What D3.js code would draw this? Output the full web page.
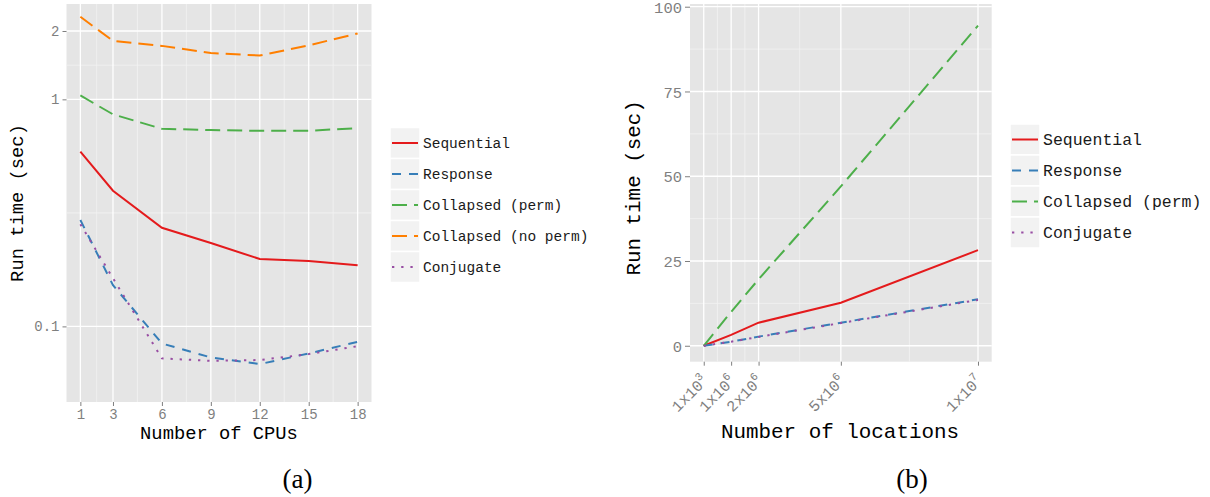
<!DOCTYPE html>
<html><head><meta charset="utf-8">
<script src="https://cdn.jsdelivr.net/npm/d3@7"></script>
<style>
body{margin:0;background:#fff;}
text{font-family:"Liberation Mono",monospace;}
</style></head>
<body><svg id="c" width="1210" height="497"></svg>
<script>
// ---------- Data ----------
const cpus = [1, 3, 6, 9, 12, 15, 18];
const cpuTicks = [1, 3, 6, 9, 12, 15, 18];
const seriesNamesA = ["Sequential", "Response", "Collapsed (perm)", "Collapsed (no perm)", "Conjugate"];
const sequentialA = [0.588, 0.396, 0.272, 0.233, 0.198, 0.194, 0.186];
const responseA   = [0.294, 0.152, 0.0841, 0.073, 0.0682, 0.076, 0.0855];
const collPermA   = [1.04, 0.859, 0.742, 0.732, 0.727, 0.727, 0.747];
const collNoPermA = [2.31, 1.81, 1.72, 1.60, 1.56, 1.73, 1.95];
const conjugateA  = [0.282, 0.163, 0.0723, 0.0705, 0.0711, 0.0755, 0.0818];
const yTicksA = [0.1, 1, 2];
const yTickLabelsA = ["0.1", "1", "2"];

const locations = [1e3, 1e6, 2e6, 5e6, 1e7];
const locTickMant = ["1", "1", "2", "5", "1"];
const locTickExp = ["3", "6", "6", "6", "7"];
const seriesNamesB = ["Sequential", "Response", "Collapsed (perm)", "Conjugate"];
const sequentialB = [0, 3.2, 6.8, 12.7, 28.2];
const responseB   = [0, 1.2, 2.7, 6.8, 13.7];
const collPermB   = [0, 10.0, 19.6, 47.0, 94.4];
const conjugateB  = [0, 1.2, 2.6, 6.7, 13.5];
const yTicksB = [0, 25, 50, 75, 100];

// ---------- Styles ----------
const styles = {
  "Sequential":          {color:"#E41A1C", dash:null},
  "Response":            {color:"#377EB8", dash:"9,8"},
  "Collapsed (perm)":    {color:"#4DAF4A", dash:"15,7"},
  "Collapsed (no perm)": {color:"#FF7F00", dash:"15,7"},
  "Conjugate":           {color:"#984EA3", dash:"2.3,6.9"}
};
const svg = d3.select("#c");
const PANEL_BG = "#E5E5E5", MINOR = "#F2F2F2";

function legend(x, yTop, names, keyH, fs) {
  const g = svg.append("g");
  names.forEach((n, i) => {
    const y = yTop + i * keyH;
    g.append("rect").attr("x", x).attr("y", y).attr("width", 30).attr("height", keyH)
      .attr("fill", "#F2F2F2").attr("stroke", "#fff").attr("stroke-width", 1.5);
    g.append("line").attr("x1", x + 2).attr("x2", x + 28).attr("y1", y + keyH/2).attr("y2", y + keyH/2)
      .attr("stroke", styles[n].color).attr("stroke-width", 2)
      .attr("stroke-dasharray", styles[n].dash);
    g.append("text").attr("x", x + 33).attr("y", y + keyH/2).attr("dy", "0.35em")
      .attr("font-size", fs).attr("fill", "#1a1a1a").text(n);
  });
}

// ---------- Panel A ----------
(function(){
  const L = 66.5, R = 371.5, T = 4, B = 402;
  const x = d3.scaleLinear().domain([0.15, 18.85]).range([L, R]);
  const y = d3.scaleLog().domain([Math.pow(10, -1.333), Math.pow(10, 0.42)]).range([B, T]);
  const g = svg.append("g");
  g.append("rect").attr("x", L).attr("y", T).attr("width", R - L).attr("height", B - T).attr("fill", PANEL_BG);
  const xMinor = [2, 4.5, 7.5, 10.5, 13.5, 16.5];
  const yMinor = [Math.sqrt(0.1), Math.sqrt(2)];
  g.selectAll(".xm").data(xMinor).join("line").attr("x1", d => x(d)).attr("x2", d => x(d))
    .attr("y1", T).attr("y2", B).attr("stroke", MINOR).attr("stroke-width", 0.8);
  g.selectAll(".ym").data(yMinor).join("line").attr("y1", d => y(d)).attr("y2", d => y(d))
    .attr("x1", L).attr("x2", R).attr("stroke", MINOR).attr("stroke-width", 0.8);
  g.selectAll(".xM").data(cpuTicks).join("line").attr("x1", d => x(d)).attr("x2", d => x(d))
    .attr("y1", T).attr("y2", B).attr("stroke", "#fff").attr("stroke-width", 1.3);
  g.selectAll(".yM").data(yTicksA).join("line").attr("y1", d => y(d)).attr("y2", d => y(d))
    .attr("x1", L).attr("x2", R).attr("stroke", "#fff").attr("stroke-width", 1.3);

  const xAxis = d3.axisBottom(x).tickValues(cpuTicks).tickSize(4).tickPadding(3);
  const ax = g.append("g").attr("transform", `translate(0,${B})`).call(xAxis);
  const yAxis = d3.axisLeft(y).tickValues(yTicksA).tickFormat((d, i) => yTickLabelsA[i]).tickSize(4).tickPadding(3);
  const ay = g.append("g").attr("transform", `translate(${L},0)`).call(yAxis);
  [ax, ay].forEach(a => {
    a.select(".domain").remove();
    a.selectAll(".tick line").attr("stroke", "#7f7f7f");
    a.selectAll(".tick text").attr("font-family", "Liberation Mono").attr("font-size", 14).attr("fill", "#7f7f7f");
  });

  const data = {
    "Sequential": sequentialA, "Response": responseA, "Collapsed (perm)": collPermA,
    "Collapsed (no perm)": collNoPermA, "Conjugate": conjugateA
  };
  const line = d3.line().x((d, i) => x(cpus[i])).y(d => y(d));
  seriesNamesA.forEach(n => {
    g.append("path").datum(data[n]).attr("d", line).attr("fill", "none")
      .attr("stroke", styles[n].color).attr("stroke-width", 2)
      .attr("stroke-dasharray", styles[n].dash);
  });

  g.append("text").attr("x", (L + R) / 2).attr("y", 439).attr("text-anchor", "middle")
    .attr("font-size", 18.8).attr("fill", "#000").text("Number of CPUs");
  g.append("text").attr("transform", `translate(23,${(T + B) / 2}) rotate(-90)`).attr("text-anchor", "middle")
    .attr("font-size", 18.8).attr("fill", "#000").text("Run time (sec)");
  legend(390, 127.5, seriesNamesA, 31, 14.5);
  svg.append("text").attr("x", 297.5).attr("y", 488).attr("text-anchor", "middle")
    .style("font-family", "'Liberation Serif', serif").attr("font-size", 27).text("(a)");
})();

// ---------- Panel B ----------
(function(){
  const L = 690, R = 991.7, T = 4, B = 361.7;
  const x = d3.scaleLinear().domain([-0.49995e6, 1.049995e7]).range([L, R]);
  const y = d3.scaleLinear().domain([-4.7, 100.8]).range([B, T]);
  const g = svg.append("g");
  g.append("rect").attr("x", L).attr("y", T).attr("width", R - L).attr("height", B - T).attr("fill", PANEL_BG);
  const xMinor = [0.5e6, 1.5e6, 3.5e6, 7.5e6];
  const yMinor = [12.5, 37.5, 62.5, 87.5];
  g.selectAll(".xm").data(xMinor).join("line").attr("x1", d => x(d)).attr("x2", d => x(d))
    .attr("y1", T).attr("y2", B).attr("stroke", MINOR).attr("stroke-width", 0.8);
  g.selectAll(".ym").data(yMinor).join("line").attr("y1", d => y(d)).attr("y2", d => y(d))
    .attr("x1", L).attr("x2", R).attr("stroke", MINOR).attr("stroke-width", 0.8);
  g.selectAll(".xM").data(locations).join("line").attr("x1", d => x(d)).attr("x2", d => x(d))
    .attr("y1", T).attr("y2", B).attr("stroke", "#fff").attr("stroke-width", 1.3);
  g.selectAll(".yM").data(yTicksB).join("line").attr("y1", d => y(d)).attr("y2", d => y(d))
    .attr("x1", L).attr("x2", R).attr("stroke", "#fff").attr("stroke-width", 1.3);

  const xAxis = d3.axisBottom(x).tickValues(locations).tickSize(4).tickFormat("");
  const ax = g.append("g").attr("transform", `translate(0,${B})`).call(xAxis);
  const yAxis = d3.axisLeft(y).tickValues(yTicksB).tickSize(5).tickPadding(3);
  const ay = g.append("g").attr("transform", `translate(${L},0)`).call(yAxis);
  [ax, ay].forEach(a => {
    a.select(".domain").remove();
    a.selectAll(".tick line").attr("stroke", "#7f7f7f");
    a.selectAll(".tick text").attr("font-family", "Liberation Mono").attr("font-size", 15.5).attr("fill", "#7f7f7f");
  });
  ay.selectAll(".tick text").attr("dy", "0.36em");
  locations.forEach((v, i) => {
    const t = g.append("text").attr("transform", `translate(${x(v) + 5},${B + 20}) rotate(-45)`)
      .attr("text-anchor", "end").attr("font-size", 15.5).attr("fill", "#7f7f7f");
    t.append("tspan").text(locTickMant[i] + "x10");
    t.append("tspan").attr("dy", -7).attr("font-size", 11).text(locTickExp[i]);
  });

  const data = {"Sequential": sequentialB, "Response": responseB, "Collapsed (perm)": collPermB, "Conjugate": conjugateB};
  const line = d3.line().x((d, i) => x(locations[i])).y(d => y(d));
  seriesNamesB.forEach(n => {
    g.append("path").datum(data[n]).attr("d", line).attr("fill", "none")
      .attr("stroke", styles[n].color).attr("stroke-width", 2)
      .attr("stroke-dasharray", styles[n].dash);
  });

  g.append("text").attr("x", 840).attr("y", 438).attr("text-anchor", "middle")
    .attr("font-size", 20.9).attr("fill", "#000").text("Number of locations");
  g.append("text").attr("transform", `translate(640,${(T + B) / 2 + 5}) rotate(-90)`).attr("text-anchor", "middle")
    .attr("font-size", 20.9).attr("fill", "#000").text("Run time (sec)");
  legend(1010, 124, seriesNamesB, 31, 16.5);
  svg.append("text").attr("x", 912).attr("y", 488).attr("text-anchor", "middle")
    .style("font-family", "'Liberation Serif', serif").attr("font-size", 27).text("(b)");
})();
</script></body></html>
